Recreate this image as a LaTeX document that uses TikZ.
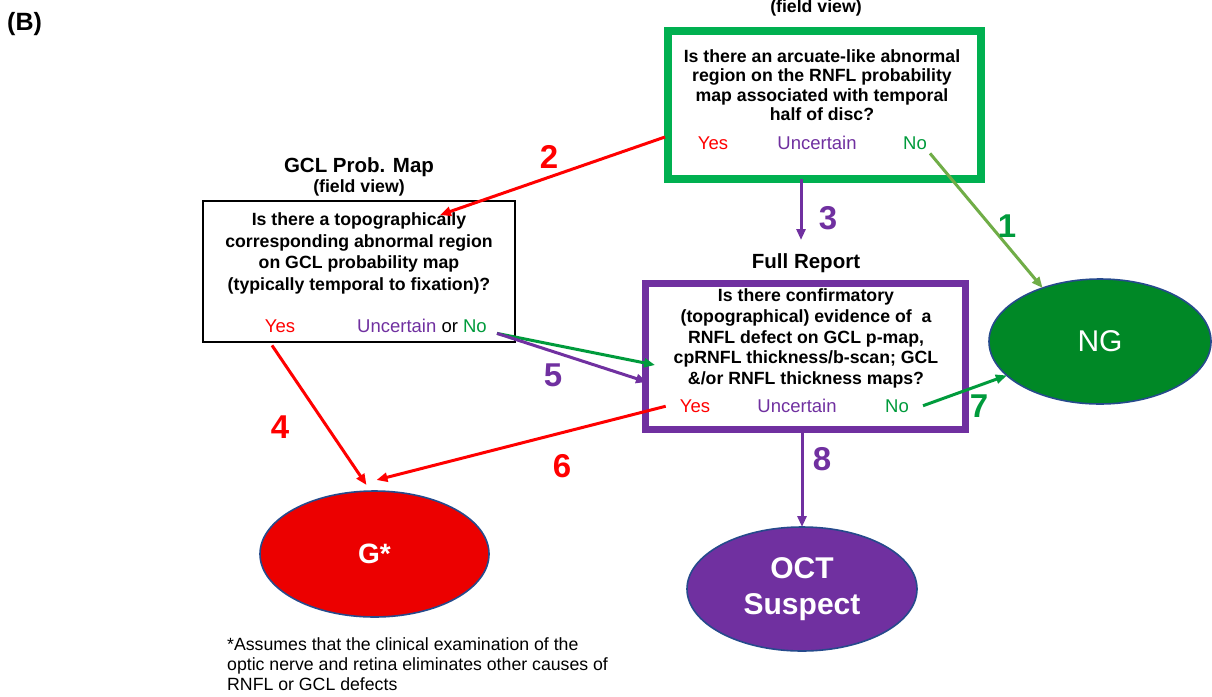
\documentclass[tikz,border=0pt]{standalone}
\usepackage{fontspec}
\setmainfont{Liberation Sans}
\usetikzlibrary{arrows.meta,shapes.geometric,calc}
\definecolor{cRed}{RGB}{255,0,0}
\definecolor{cPur}{RGB}{112,48,160}
\definecolor{cBoxG}{RGB}{0,176,80}
\definecolor{cTxtG}{RGB}{0,155,60}
\definecolor{cArrG}{RGB}{112,173,71}
\definecolor{cNG}{RGB}{0,136,38}
\definecolor{cGs}{RGB}{236,0,0}
\definecolor{cEdge}{RGB}{38,74,140}
\begin{document}
\begin{tikzpicture}[x=1pt,y=-1pt,
 qbox/.style={draw, rectangle, inner sep=0pt, outer sep=0pt},
 qtext/.style={align=center, inner sep=0pt, anchor=north},
 ttl/.style={anchor=base, inner sep=0pt},
 ans/.style={inner sep=0pt, anchor=base, font=\fontsize{18.5}{20}\selectfont},
 num/.style={inner sep=0pt, font=\fontsize{33}{35}\selectfont\bfseries},
 outc/.style={ellipse, draw=cEdge, line width=1.6pt, inner sep=0pt, outer sep=0pt, text=white},
 arr/.style={line width=3pt, -{Triangle[length=11pt,width=9pt]}},
]
\fill[white] (0,0) rectangle (1212,696);
\useasboundingbox (0,0) rectangle (1212,696);

% label
\node[anchor=base west, inner sep=0pt, font=\fontsize{25}{27}\selectfont\bfseries] (lblB) at (7,30) {(B)};

% boxes
\node[qbox, draw=cBoxG, line width=8pt, minimum width=313pt, minimum height=148pt] (box1) at (824.5,105) {};
\node[qbox, draw=black, line width=2pt, minimum width=312pt, minimum height=141pt] (box2) at (359,271.5) {};
\node[qbox, draw=cPur, line width=7pt, minimum width=320pt, minimum height=146pt] (box3) at (805,356) {};

% titles
\node[ttl, font=\fontsize{17.7}{20}\selectfont\bfseries] (fv1) at (816,12.5) {(field view)};
\node[ttl, font=\fontsize{20.5}{22}\selectfont\bfseries] (t2) at (359,172) {GCL Prob. Map};
\node[ttl, font=\fontsize{17.7}{20}\selectfont\bfseries] (fv2) at (359,192.5) {(field view)};
\node[ttl, font=\fontsize{20.5}{22}\selectfont\bfseries] (t3) at (806,268) {Full Report};

% questions
\node[qtext, font=\fontsize{17.7}{19.3}\selectfont\bfseries] (q1) at (822,49.5) {Is there an arcuate-like abnormal\\region on the RNFL probability\\map associated with temporal\\half of disc?};
\node[qtext, font=\fontsize{17.7}{21.7}\selectfont\bfseries] (q2) at (359,212.5) {Is there a topographically\\corresponding abnormal region\\on GCL probability map\\(typically temporal to fixation)?};
\node[qtext, font=\fontsize{17.7}{20.8}\selectfont\bfseries] (q3) at (806,288.5) {Is there confirmatory\\(topographical) evidence of\ \ a\\RNFL defect on GCL p-map,\\cpRNFL thickness/b-scan; GCL\\\&/or RNFL thickness maps?};

% answers
\node[ans, text=cRed] (yes1) at (713,149) {Yes};
\node[ans, text=cPur] (unc1) at (817,149) {Uncertain};
\node[ans, text=cTxtG] (no1) at (915,149) {No};
\node[ans, text=cRed] (yes2) at (280,332) {Yes};
\node[ans] (ucn2) at (422,332) {\textcolor{cPur}{Uncertain} or \textcolor{cTxtG}{No}};
\node[ans, text=cRed] (yes3) at (695,412) {Yes};
\node[ans, text=cPur] (unc3) at (797,412) {Uncertain};
\node[ans, text=cTxtG] (no3) at (897,412) {No};

% outcomes
\node[outc, fill=cNG, minimum width=222pt, minimum height=125pt, font=\fontsize{30}{31}\selectfont] (ng) at (1100,341.5) {NG};
\node[outc, fill=cGs, minimum width=229pt, minimum height=126pt, font=\fontsize{28}{30}\selectfont\bfseries] (gs) at (374.5,554) {G*};
\node[outc, fill=cPur, minimum width=230pt, minimum height=124pt, align=center, font=\fontsize{30}{36}\selectfont\bfseries] (oct) at (802,589) {OCT\\Suspect};

% footnote
\node[anchor=north west, inner sep=0pt, align=left, font=\fontsize{17.7}{20}\selectfont] (fn) at (227,637) {*Assumes that the clinical examination of the\\optic nerve and retina eliminates other causes of\\RNFL or GCL defects};

% connectors
\coordinate (a3) at (801,240);
\draw[arr, cArrG] ($(no1.south east)+(3,4)$) -- (ng.137);
\draw[arr, cRed] ($(box1.west)+(-3,32)$) -- ($(box2.north)+(81,14)$);
\draw[arr, cPur] (box1.south -| a3) -- (a3);
\draw[arr, cRed] ($(yes2.south)+(-8,13)$) -- ($(gs.north)+(-8,-6)$);
\draw[arr, cTxtG] ($(ucn2.east)+(10,8)$) -- ($(box3.west)+(10,9)$);
\draw[arr, cPur] ($(ucn2.east)+(10,8)$) -- ($(box3.west)+(2,26)$);
\draw[arr, cRed] ($(yes3.west)+(-14,0.5)$) -- ($(gs.north)+(2,-11)$);
\draw[arr, cTxtG] ($(no3.east)+(14,0)$) -- (ng.200);
\draw[arr, cPur] (box3.south -| oct.north) -- (oct.north);

% numbers
\node[num, text=cTxtG] (n1) at (1007,226) {1};
\node[num, text=cRed] (n2) at (549,157) {2};
\node[num, text=cPur] (n3) at (828,218) {3};
\node[num, text=cRed] (n4) at (280,427) {4};
\node[num, text=cPur] (n5) at (553,375) {5};
\node[num, text=cRed] (n6) at (562,466) {6};
\node[num, text=cTxtG] (n7) at (979,406) {7};
\node[num, text=cPur] (n8) at (822,459) {8};
\end{tikzpicture}
\end{document}
